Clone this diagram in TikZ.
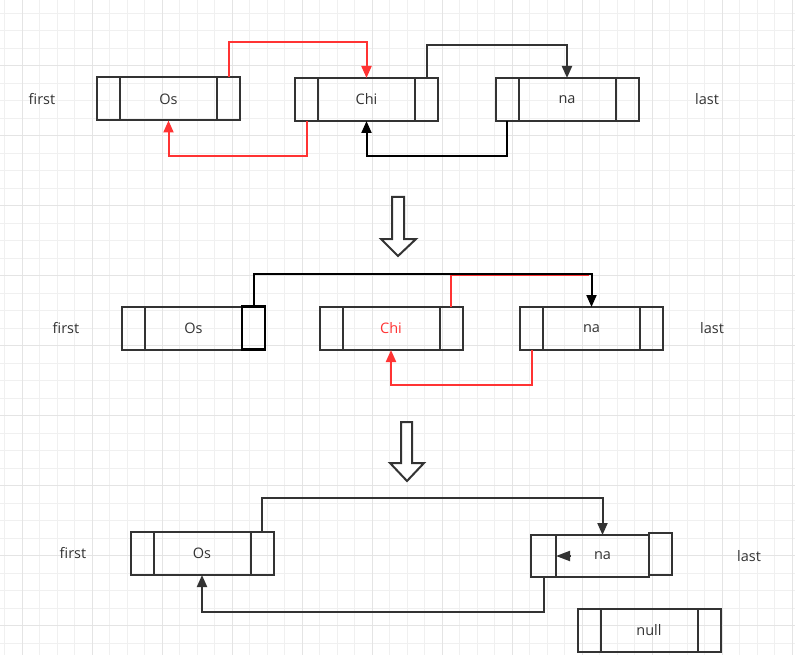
\documentclass[tikz,border=0pt]{standalone}
\usepackage{fontspec}
\setmainfont{Open Sans}
\usetikzlibrary{positioning,arrows.meta}
\definecolor{linec}{HTML}{333333}
\definecolor{redc}{HTML}{FF3333}
\definecolor{gridc}{HTML}{F0F0F0}
\definecolor{gridd}{HTML}{E4E4E4}
\tikzset{
  mid/.style={draw=linec,line width=2pt,minimum width=97pt,minimum height=43pt,inner sep=0pt,outer sep=0pt,font=\fontsize{14.5}{16}\selectfont,text=linec},
  cell/.style={draw=linec,line width=2pt,minimum width=23pt,minimum height=43pt,inner sep=0pt,outer sep=0pt},
  lbl/.style={font=\fontsize{14.5}{16}\selectfont,text=linec},
  blk/.style={draw=linec,line width=2pt},
  blkarr/.style={blk,-{Triangle[length=12pt,width=10pt]}},
  redarr/.style={draw=redc,line width=2pt,-{Triangle[length=12pt,width=10pt]}},
  hollow/.style={draw=linec,line width=2pt,fill=white,line join=miter}
}
\begin{document}
\begin{tikzpicture}[x=1pt,y=-1pt]
	\useasboundingbox (0,0) rectangle (795,655);
	\fill[white] (0,0) rectangle (795,655);
	% grid
	\foreach \i in {0,...,45} \draw[gridc,line width=1pt] ({4.8+17.5*\i},0) -- ++(0,655);
	\foreach \j in {0,...,37} \draw[gridc,line width=1pt] (0,{13.2+17.5*\j}) -- ++(795,0);
	\foreach \i in {1,5,...,45} \draw[gridd,line width=1pt] ({4.8+17.5*\i},0) -- ++(0,655);
	\foreach \j in {3,7,...,35} \draw[gridd,line width=1pt] (0,{13.2+17.5*\j}) -- ++(795,0);
	
	% before
	\node[lbl] (first1) at (42,99) {first};
	\node[lbl] (last1) at (707,99) {last};
	\node[mid] (os1) at (168.5,99) {Os};
	\node[cell,left=0pt of os1] (os1l) {};
	\node[cell,right=0pt of os1] (os1r) {};
	\node[mid] (chi1) at (366.5,99.5) {Chi};
	\node[cell,left=0pt of chi1] (chi1l) {};
	\node[cell,right=0pt of chi1] (chi1r) {};
	\node[mid] (na1) at (567,99.5) {na};
	\node[cell,left=0pt of na1] (na1l) {};
	\node[cell,right=0pt of na1] (na1r) {};
	\draw[redarr] (os1r.north) -- ++(0,-35) -| (chi1.north);
	\draw[blkarr] (chi1r.north) -- ++(0,-33) -| (na1.north);
	\draw[redarr] (chi1l.south) -- ++(0,35) -| (os1.south);
	\draw[blkarr,draw=black] (na1l.south) -- ++(0,35) -| (chi1.south);
	
	\draw[hollow] (392,197) -- (404,197) -- (404,239) -- (416,239) -- (398,256) -- (381,239) -- (392,239) -- cycle;
	
	% unlink
	\node[lbl] (first2) at (66,328) {first};
	\node[lbl] (last2) at (712,328) {last};
	\node[mid] (os2) at (193.5,328) {Os};
	\node[cell,left=0pt of os2] (os2l) {};
	\node[cell,right=0pt of os2,draw=black,line width=2.5pt] (os2r) {};
	\node[mid,text=redc] (chi2) at (391,328.5) {Chi};
	\node[cell,left=0pt of chi2] (chi2l) {};
	\node[cell,right=0pt of chi2] (chi2r) {};
	\node[mid] (na2) at (591.5,328.5) {na};
	\node[cell,left=0pt of na2] (na2l) {};
	\node[cell,right=0pt of na2] (na2r) {};
	\coordinate (join2) at (589,275);
	\draw[draw=redc,line width=2pt] (chi2r.north) |- (join2);
	\draw[blkarr,draw=black] (os2r.north) -- ++(0,-33) -| (na2.north);
	\draw[redarr] (na2l.south) -- ++(0,35) -| (chi2.south);
	
	\draw[hollow] (401,422) -- (412,422) -- (412,463) -- (424,463) -- (407,481) -- (390,463) -- (401,463) -- cycle;
	
	% after
	\node[lbl] (first3) at (73,553) {first};
	\node[lbl] (last3) at (749,556) {last};
	\node[mid] (os3) at (202,553.5) {Os};
	\node[cell,left=0pt of os3] (os3l) {};
	\node[cell,right=0pt of os3] (os3r) {};
	\node[mid,minimum width=93pt,minimum height=42pt] (na3) at (602.5,556) {na};
	\node[cell,minimum width=25pt,minimum height=42pt,left=0pt of na3] (na3l) {};
	\node[cell,minimum height=42pt,right=0pt of na3,yshift=2pt] (na3r) {};
	\draw[blkarr] (os3r.north) -- ++(0,-34) -| (na3.north);
	\draw[blkarr] (na3l.south) -- ++(0,35) -| (os3.south);
	\draw[blk,-{Triangle[length=14pt,width=10pt]}] ([xshift=14pt]na3.west) -- (na3.west);
	\node[mid] (null3) at (649,630.5) {null};
	\node[cell,left=0pt of null3] (null3l) {};
	\node[cell,right=0pt of null3] (null3r) {};
\end{tikzpicture}
\end{document}
